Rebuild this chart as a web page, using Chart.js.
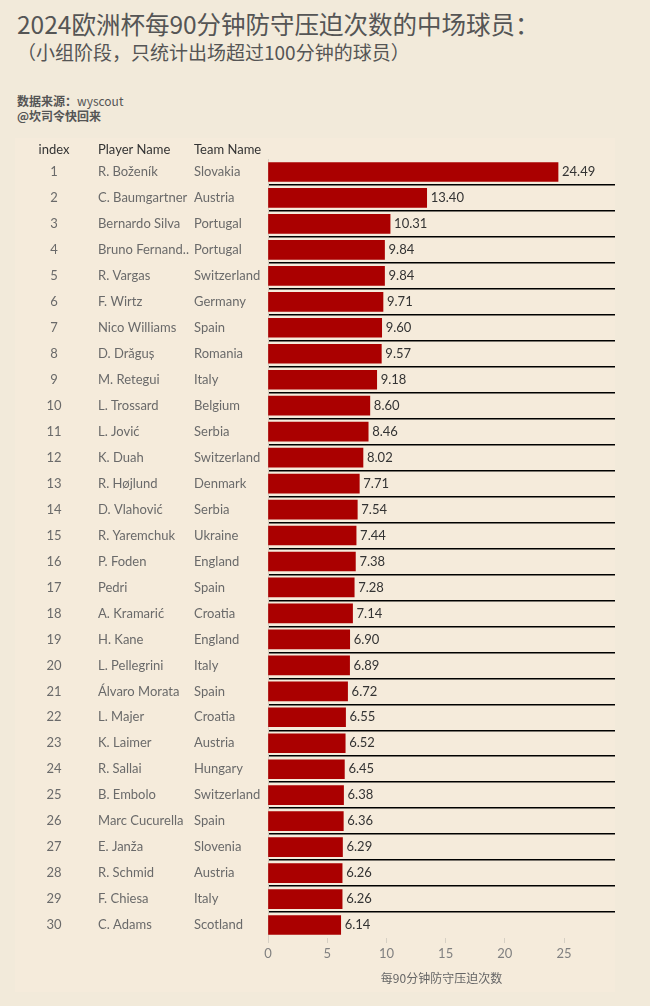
<!DOCTYPE html>
<html>
<head>
<meta charset="utf-8">
<script src="https://cdn.jsdelivr.net/npm/chart.js@4.4.1/dist/chart.umd.min.js"></script>
<style>
    html, body { margin: 0; padding: 0; }
    body { width: 650px; height: 1006px; background: #f2eada; position: relative; overflow: hidden; }
    #panel { position: absolute; left: 15px; top: 138px; width: 600px; height: 854px; background: #f5ebdb; }
    .txt { position: absolute; left: 17px; white-space: nowrap; color: #555; font-family: "Noto Sans CJK SC", sans-serif; }
    #title { top: 10px; font-size: 24.5px; line-height: 28px; }
    #subtitle { top: 41px; font-size: 19px; line-height: 22px; }
    .src { font-size: 12px; line-height: 14px; }
    .src b { font-weight: bold; }
    #chart { position: absolute; left: 0; top: 0; }
</style>
</head>
<body>
<div id="panel"></div>
<div class="txt" id="title">2024欧洲杯每90分钟防守压迫次数的中场球员：</div>
<div class="txt" id="subtitle">（小组阶段，只统计出场超过100分钟的球员）</div>
<div class="txt src" style="top:94px"><b>数据来源：</b>wyscout</div>
<div class="txt src" style="top:109px"><b>@坎司令快回来</b></div>
<canvas id="chart" width="650" height="1006"></canvas>

<script>
// Data
const players = [
    'R. Boženík', 'C. Baumgartner', 'Bernardo Silva', 'Bruno Fernandes', 'R. Vargas',
    'F. Wirtz', 'Nico Williams', 'D. Drăguș', 'M. Retegui', 'L. Trossard',
    'L. Jović', 'K. Duah', 'R. Højlund', 'D. Vlahović', 'R. Yaremchuk',
    'P. Foden', 'Pedri', 'A. Kramarić', 'H. Kane', 'L. Pellegrini',
    'Álvaro Morata', 'L. Majer', 'K. Laimer', 'R. Sallai', 'B. Embolo',
    'Marc Cucurella', 'E. Janža', 'R. Schmid', 'F. Chiesa', 'C. Adams'
];
const teams = [
    'Slovakia', 'Austria', 'Portugal', 'Portugal', 'Switzerland',
    'Germany', 'Spain', 'Romania', 'Italy', 'Belgium',
    'Serbia', 'Switzerland', 'Denmark', 'Serbia', 'Ukraine',
    'England', 'Spain', 'Croatia', 'England', 'Italy',
    'Spain', 'Croatia', 'Austria', 'Hungary', 'Switzerland',
    'Spain', 'Slovenia', 'Austria', 'Italy', 'Scotland'
];
const pressures = [
    24.49, 13.40, 10.31, 9.84, 9.84,
    9.71, 9.60, 9.57, 9.18, 8.60,
    8.46, 8.02, 7.71, 7.54, 7.44,
    7.38, 7.28, 7.14, 6.90, 6.89,
    6.72, 6.55, 6.52, 6.45, 6.38,
    6.36, 6.29, 6.26, 6.26, 6.14
];
const headers = ['index', 'Player Name', 'Team Name'];
const axisTitle = '每90分钟防守压迫次数';

const bodyFont = '13px Lato, sans-serif';

// table columns to the left of the bars
const tablePlugin = {
    id: 'table',
    afterDraw(chart) {
        const ctx = chart.ctx;
        const yScale = chart.scales.y;
        const top = chart.chartArea.top;
        ctx.save();
        ctx.font = bodyFont;
        ctx.textBaseline = 'middle';

        ctx.fillStyle = '#333';
        ctx.textAlign = 'center';
        ctx.fillText(headers[0], 54, top - 9);
        ctx.textAlign = 'left';
        ctx.fillText(headers[1], 98, top - 9);
        ctx.fillText(headers[2], 194, top - 9);

        ctx.fillStyle = '#6a6a6a';
        players.forEach(function (name, i) {
            const y = yScale.getPixelForValue(i);
            ctx.textAlign = 'center';
            ctx.fillText(String(i + 1), 54, y);
            ctx.textAlign = 'left';
            let label = name;
            if (ctx.measureText(label).width > 93) {
                while (label.length && ctx.measureText(label + '..').width > 93) {
                    label = label.slice(0, -1);
                }
                label += '..';
            }
            ctx.fillText(label, 98, y);
            ctx.fillText(teams[i], 194, y);
        });

        // value labels
        const meta = chart.getDatasetMeta(0);
        ctx.fillStyle = '#333';
        meta.data.forEach(function (bar, i) {
            ctx.fillText(pressures[i].toFixed(2), bar.x + 4, bar.y);
        });
        ctx.restore();
    }
};

new Chart(document.getElementById('chart'), {
    type: 'bar',
    data: {
        labels: players,
        datasets: [{
            data: pressures,
            backgroundColor: '#aa0000',
            barThickness: 19
        }]
    },
    options: {
        indexAxis: 'y',
        responsive: false,
        animation: false,
        layout: { padding: { left: 268, right: 35, top: 159, bottom: 20 } },
        plugins: {
            legend: { display: false },
            tooltip: { enabled: false }
        },
        scales: {
            y: {
                ticks: { display: false },
                afterFit: function (s) { s.width = 0; },
                border: { color: '#d6d0c4', width: 1 },
                grid: {
                    offset: true,
                    drawTicks: false,
                    lineWidth: 1.5,
                    color: function (c) {
                        return (c.index === undefined || c.index === 0) ? 'rgba(0,0,0,0)' : '#000';
                    }
                }
            },
            x: {
                min: 0,
                max: 29.3,
                afterBuildTicks: function (s) {
                    s.ticks = s.ticks.filter(function (t) { return t.value % 5 === 0; });
                },
                ticks: { stepSize: 5, color: '#808080', font: { family: 'Lato', size: 13 }, padding: 3 },
                border: { display: false },
                grid: { drawOnChartArea: false, tickLength: 5, color: '#d6d0c4' },
                title: {
                    display: true,
                    text: axisTitle,
                    color: '#666',
                    font: { family: 'Noto Sans CJK SC', size: 12 },
                    padding: { top: 7, bottom: 0 }
                }
            }
        }
    },
    plugins: [tablePlugin]
});
</script>
</body>
</html>
